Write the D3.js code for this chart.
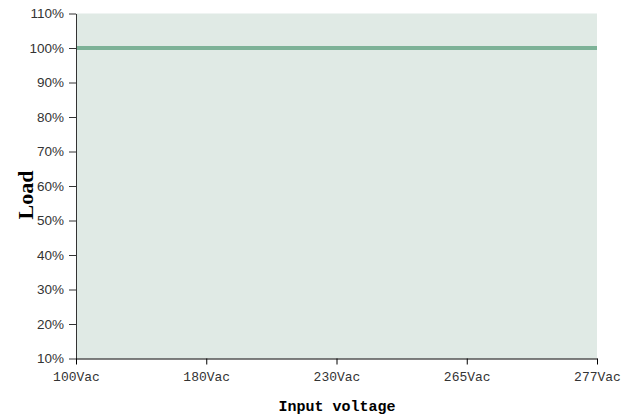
<!DOCTYPE html>
<html><head><meta charset="utf-8">
<script src="https://cdn.jsdelivr.net/npm/d3@7"></script>
<style>body{margin:0;background:#fff}svg{display:block}</style>
</head><body>
<svg id="c" width="635" height="418"></svg>
<script>
const categories = ["100Vac","180Vac","230Vac","265Vac","277Vac"];
const loadValues = [100,100,100,100,100];
const yTickValues = [10,20,30,40,50,60,70,80,90,100,110];
const xTitle = "Input voltage";
const yTitle = "Load";

(function(){
const svg = d3.select("#c");
const mLeft = 76, mRight = 597, mTop = 13.5, mBottom = 358.5;
const x = d3.scalePoint().domain(categories).range([mLeft, mRight]);
const y = d3.scaleLinear().domain([10,110]).range([mBottom, mTop]);

svg.append("rect").attr("x", mLeft).attr("y", mTop).attr("width", mRight-mLeft).attr("height", mBottom-mTop).attr("fill", "#e0eae5");

const line = d3.line().x((d,i)=>x(categories[i])).y(d=>y(d));
svg.append("path").datum(loadValues).attr("d", line).attr("fill","none")
  .attr("stroke","#7db297").attr("stroke-width",4);

const ya = svg.append("g").attr("transform",`translate(${mLeft},0)`)
  .call(d3.axisLeft(y).tickValues(yTickValues).tickFormat(d=>d+"%").tickSize(7).tickSizeOuter(0).tickPadding(5));
ya.select(".domain").attr("stroke","#333");
ya.selectAll(".tick line").attr("stroke","#333");
ya.selectAll("text").attr("font-family","Liberation Sans, Arial, sans-serif").attr("font-size","13.5px").attr("fill","#333");

const xa = svg.append("g").attr("transform",`translate(0,${mBottom})`)
  .call(d3.axisBottom(x).tickSize(6).tickSizeOuter(0).tickPadding(7));
xa.select(".domain").attr("stroke","#000");
xa.selectAll(".tick line").attr("stroke","#000");
xa.selectAll("text").attr("font-family","Liberation Mono, monospace").attr("font-size","13px").attr("fill","#333");

svg.append("text").attr("x", 337).attr("y", 411).attr("text-anchor","middle")
  .attr("font-family","Liberation Mono, monospace").attr("font-weight","bold").attr("font-size","15px").attr("fill","#000").text(xTitle);

svg.append("text").attr("transform","translate(33,195) rotate(-90)").attr("text-anchor","middle")
  .attr("font-family","Liberation Serif, Times New Roman, serif").attr("font-weight","bold").attr("font-size","22px").attr("fill","#000").text(yTitle);
})();
</script>
</body></html>
